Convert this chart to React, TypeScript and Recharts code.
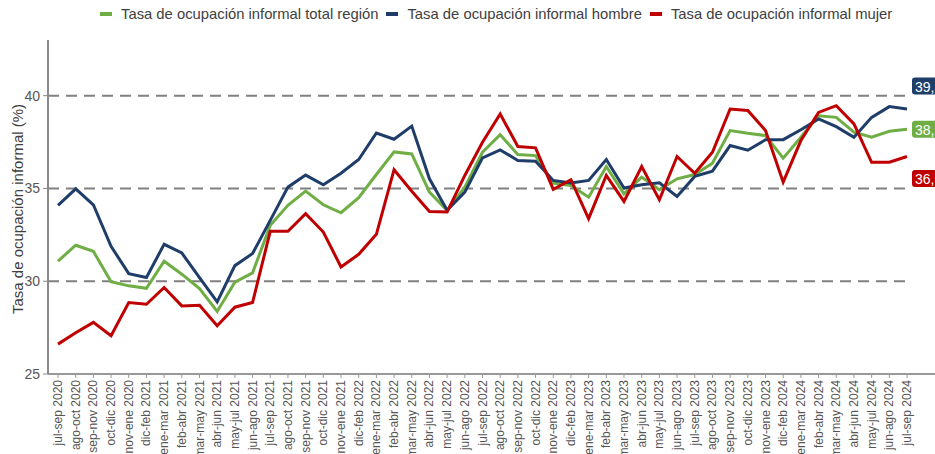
import React from 'react';
import { LineChart, Line, XAxis, YAxis, CartesianGrid, ReferenceLine } from 'recharts';

const periods = [
  'jul-sep 2020', 'ago-oct 2020', 'sep-nov 2020', 'oct-dic 2020', 'nov-ene 2020',
  'dic-feb 2021', 'ene-mar 2021', 'feb-abr 2021', 'mar-may 2021', 'abr-jun 2021', 'may-jul 2021',
  'jun-ago 2021', 'jul-sep 2021', 'ago-oct 2021', 'sep-nov 2021', 'oct-dic 2021', 'nov-ene 2021',
  'dic-feb 2022', 'ene-mar 2022', 'feb-abr 2022', 'mar-may 2022', 'abr-jun 2022', 'may-jul 2022',
  'jun-ago 2022', 'jul-sep 2022', 'ago-oct 2022', 'sep-nov 2022', 'oct-dic 2022', 'nov-ene 2022',
  'dic-feb 2023', 'ene-mar 2023', 'feb-abr 2023', 'mar-may 2023', 'abr-jun 2023', 'may-jul 2023',
  'jun-ago 2023', 'jul-sep 2023', 'ago-oct 2023', 'sep-nov 2023', 'oct-dic 2023', 'nov-ene 2023',
  'dic-feb 2024', 'ene-mar 2024', 'feb-abr 2024', 'mar-may 2024', 'abr-jun 2024', 'may-jul 2024',
  'jun-ago 2024', 'jul-sep 2024',
];

const totalRegion = [
  31.08, 31.94, 31.61, 29.97, 29.75, 29.62, 31.08, 30.38, 29.6, 28.37,
  29.95, 30.45, 33.01, 34.09, 34.86, 34.12, 33.69, 34.5, 35.75, 36.97,
  36.86, 34.8, 33.82, 35.07, 36.95, 37.9, 36.83, 36.77, 35.29, 35.16,
  34.53, 36.18, 34.71, 35.61, 34.93, 35.52, 35.75, 36.36, 38.12, 37.97,
  37.85, 36.63, 37.76, 38.92, 38.83, 38.03, 37.76, 38.08, 38.19,
];

const hombre = [
  34.09, 34.98, 34.12, 31.88, 30.41, 30.2, 31.99, 31.52, 30.2, 28.89,
  30.84, 31.49, 33.28, 35.07, 35.72, 35.2, 35.82, 36.56, 37.99, 37.65,
  38.36, 35.52, 33.82, 34.8, 36.65, 37.08, 36.51, 36.47, 35.43, 35.29,
  35.43, 36.56, 35.02, 35.2, 35.3, 34.57, 35.65, 35.93, 37.31, 37.06,
  37.62, 37.63, 38.16, 38.75, 38.33, 37.76, 38.83, 39.41, 39.28,
];

const mujer = [
  26.61, 27.22, 27.78, 27.06, 28.85, 28.76, 29.66, 28.67, 28.71, 27.6,
  28.6, 28.85, 32.69, 32.69, 33.64, 32.65, 30.77, 31.45, 32.53, 36.01,
  34.85, 33.76, 33.73, 35.7, 37.49, 39.01, 37.26, 37.19, 34.95, 35.47,
  33.37, 35.7, 34.3, 36.18, 34.39, 36.72, 35.82, 36.95, 39.28, 39.2,
  38.12, 35.34, 37.58, 39.1, 39.46, 38.48, 36.41, 36.41, 36.72,
];

const yTicks = [25, 30, 35, 40];
const gridValues = [30, 35, 40];

const seriesNames = {
  total: 'Tasa de ocupación informal total región',
  hombre: 'Tasa de ocupación informal hombre',
  mujer: 'Tasa de ocupación informal mujer',
};

const yAxisTitle = 'Tasa de ocupación informal (%)';

const COLORS = { total: '#6FAE45', hombre: '#1E3D69', mujer: '#C00000' };
const FONT = '"Liberation Sans", Arial, sans-serif';

const data = periods.map((p, i) => ({
  period: p,
  total: totalRegion[i],
  hombre: hombre[i],
  mujer: mujer[i],
}));

const XTick = (props: any) => {
  const { x, y, payload } = props;
  return (
    <text
      x={x}
      y={y}
      transform={`rotate(-90 ${x} ${y})`}
      textAnchor="end"
      dominantBaseline="central"
      fontSize={12}
      fill="#555"
      fontFamily={FONT}
    >
      {payload.value}
    </text>
  );
};

const makeEndLabel = (color: string, dy: number) => (props: any) => {
  const { x, y, index, value } = props;
  if (index !== periods.length - 1 || x == null) return null;
  const bx = x + 5;
  const cy = y + dy;
  return (
    <g>
      <rect x={bx} y={cy - 8.5} width={44} height={17} rx={3} ry={3} fill={color} />
      <text
        x={bx + 3}
        y={cy + 0.5}
        dominantBaseline="central"
        fill="#fff"
        fontSize={14}
        fontFamily={FONT}
      >
        {Number(value).toFixed(1).replace('.', ',')}
      </text>
    </g>
  );
};

const YTitle = (props: any) => {
  const vb = props.viewBox || { x: 0, y: 40, width: 48, height: 334 };
  const cx = vb.x + 17;
  const cy = vb.y + vb.height / 2 + 2;
  return (
    <text
      x={cx}
      y={cy}
      transform={`rotate(-90 ${cx} ${cy})`}
      textAnchor="middle"
      dominantBaseline="central"
      fontSize={15}
      fill="#404040"
      fontFamily={FONT}
    >
      {yAxisTitle}
    </text>
  );
};

const legendItems = [
  { key: 'total', label: seriesNames.total, color: COLORS.total },
  { key: 'hombre', label: seriesNames.hombre, color: COLORS.hombre },
  { key: 'mujer', label: seriesNames.mujer, color: COLORS.mujer },
];

export default function App() {
  return (
    <div style={{ position: 'absolute', left: 0, top: 0, width: 935, height: 454, overflow: 'hidden', background: '#fff' }}>
      <div
        style={{
          position: 'absolute',
          left: 100,
          top: 6,
          display: 'flex',
          alignItems: 'center',
          fontFamily: FONT,
          fontSize: 14.8,
          color: '#404040',
          whiteSpace: 'nowrap',
          zIndex: 2,
        }}
      >
        {legendItems.map((it) => (
          <div key={it.key} style={{ display: 'flex', alignItems: 'center', marginRight: 8 }}>
            <span style={{ display: 'inline-block', width: 12, height: 4, background: it.color, marginRight: 9 }} />
            <span>{it.label}</span>
          </div>
        ))}
      </div>
      <LineChart
        width={935}
        height={454}
        data={data}
        margin={{ top: 40, right: 23, bottom: 0, left: 0 }}
      >
        <CartesianGrid
          vertical={false}
          horizontalValues={gridValues}
          stroke="#808080"
          strokeWidth={2}
          strokeDasharray="11 7"
        />
        <XAxis
          dataKey="period"
          scale="point"
          padding={{ left: 10, right: 5 }}
          interval={0}
          height={80}
          tick={<XTick />}
          tickSize={4}
          tickMargin={2}
          tickLine={{ stroke: '#999' }}
          axisLine={{ stroke: '#999', strokeWidth: 2 }}
        />
        <YAxis
          domain={[25, 43]}
          ticks={yTicks}
          width={48}
          tickSize={5}
          tickMargin={3}
          tick={{ fontSize: 14, fill: '#555', fontFamily: FONT }}
          tickLine={{ stroke: '#8a8a8a' }}
          axisLine={{ stroke: '#8a8a8a', strokeWidth: 2 }}
          label={<YTitle />}
        />
        <ReferenceLine
          y={25}
          ifOverflow="visible"
          shape={(p: any) => (
            <line x1={p.x1} y1={p.y1} x2={p.x2 + 30} y2={p.y2} stroke="#999" strokeWidth={2} />
          )}
        />
        <Line
          type="linear"
          dataKey="total"
          name={seriesNames.total}
          stroke={COLORS.total}
          strokeWidth={3}
          dot={false}
          isAnimationActive={false}
          label={makeEndLabel(COLORS.total, 0)}
        />
        <Line
          type="linear"
          dataKey="hombre"
          name={seriesNames.hombre}
          stroke={COLORS.hombre}
          strokeWidth={3}
          dot={false}
          isAnimationActive={false}
          label={makeEndLabel(COLORS.hombre, -23)}
        />
        <Line
          type="linear"
          dataKey="mujer"
          name={seriesNames.mujer}
          stroke={COLORS.mujer}
          strokeWidth={3}
          dot={false}
          isAnimationActive={false}
          label={makeEndLabel(COLORS.mujer, 22)}
        />
      </LineChart>
    </div>
  );
}
